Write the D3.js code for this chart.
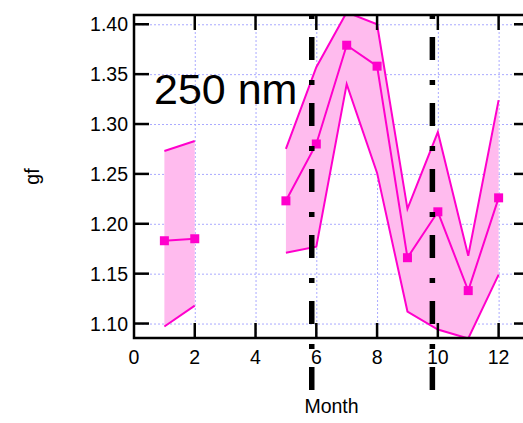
<!DOCTYPE html>
<html>
<head>
<meta charset="utf-8">
<script src="https://cdn.jsdelivr.net/npm/d3@7"></script>
<style>
  html, body { margin: 0; padding: 0; background: #fff; }
  svg { display: block; font-family: "Liberation Sans", Arial, sans-serif; }
</style>
</head>
<body>
<svg id="chart"></svg>
<script>
// data
const segments = [[1, 2], [5, 6, 7, 8, 9, 10, 11, 12]];
const months   = [1, 2, 5, 6, 7, 8, 9, 10, 11, 12];
const gfMean   = [1.183, 1.185, 1.223, 1.280, 1.379, 1.358, 1.166, 1.212, 1.133, 1.226];
const gfUpper  = [1.273, 1.283, 1.275, 1.357, 1.412, 1.400, 1.215, 1.292, 1.168, 1.324];
const gfLower  = [1.097, 1.118, 1.171, 1.177, 1.340, 1.251, 1.112, 1.094, 1.085, 1.149];
const markerMonths = [5.85, 9.82];
const xTicks = [0, 2, 4, 6, 8, 10, 12];
const yTicks = [1.10, 1.15, 1.20, 1.25, 1.30, 1.35, 1.40];
const label = "250 nm";

const width = 523, height = 423;
const margin = { top: 15, left: 134 };
const innerW = 395, innerH = 323;

const lineColor = "#ff00cc";
const fillColor = "#ffbbee";
const gridColor = "#aaaaff";

const svg = d3.select("#chart").attr("width", width).attr("height", height);

const x = d3.scaleLinear().domain([0, 13]).range([margin.left, margin.left + innerW]);
const y = d3.scaleLinear().domain([1.0855, 1.4093]).range([margin.top + innerH, margin.top]);

const rows = months.map((m, i) => ({ m, mean: gfMean[i], hi: gfUpper[i], lo: gfLower[i] }));

svg.append("defs").append("clipPath").attr("id", "clip")
  .append("rect")
  .attr("x", x(0)).attr("y", y.range()[1])
  .attr("width", innerW).attr("height", innerH);

// grid
const grid = svg.append("g")
  .attr("stroke", gridColor).attr("stroke-width", 1).attr("stroke-dasharray", "2,2");
grid.selectAll(".gx").data(xTicks).join("line")
  .attr("x1", d => x(d) + 0.5).attr("x2", d => x(d) + 0.5)
  .attr("y1", y.range()[0]).attr("y2", y.range()[1]);
grid.selectAll(".gy").data(yTicks).join("line")
  .attr("x1", x(0)).attr("x2", x(13))
  .attr("y1", d => y(d) + 0.5).attr("y2", d => y(d) + 0.5);

// band + lines
const plot = svg.append("g").attr("clip-path", "url(#clip)");
const area = d3.area().x(d => x(d.m)).y0(d => y(d.lo)).y1(d => y(d.hi));
const lineOf = key => d3.line().x(d => x(d.m)).y(d => y(d[key]));

segments.forEach(seg => {
  const part = rows.filter(r => seg.includes(r.m));
  plot.append("path").datum(part).attr("d", area).attr("fill", fillColor);
  ["hi", "lo", "mean"].forEach(k => {
    plot.append("path").datum(part).attr("d", lineOf(k))
      .attr("fill", "none").attr("stroke", lineColor).attr("stroke-width", 2);
  });
});

plot.selectAll(".pt").data(rows).join("rect")
  .attr("x", d => x(d.m) - 4.5).attr("y", d => y(d.mean) - 4.5)
  .attr("width", 9).attr("height", 9)
  .attr("fill", lineColor);

// frame + ticks
const axisG = svg.append("g").attr("stroke", "#000").attr("stroke-width", 2.5);
axisG.append("rect")
  .attr("x", x(0)).attr("y", y.range()[1])
  .attr("width", innerW).attr("height", innerH)
  .attr("fill", "none");
const tl = 15;
axisG.selectAll(".tb").data(xTicks.slice(1)).join("line")
  .attr("x1", d => x(d)).attr("x2", d => x(d))
  .attr("y1", y.range()[0]).attr("y2", y.range()[0] - tl);
axisG.selectAll(".tt").data(xTicks.slice(1)).join("line")
  .attr("x1", d => x(d)).attr("x2", d => x(d))
  .attr("y1", y.range()[1]).attr("y2", y.range()[1] + tl);
axisG.selectAll(".tlft").data(yTicks).join("line")
  .attr("x1", x(0)).attr("x2", x(0) + tl)
  .attr("y1", d => y(d)).attr("y2", d => y(d));
axisG.selectAll(".trt").data(yTicks).join("line")
  .attr("x1", x(13)).attr("x2", x(13) - tl)
  .attr("y1", d => y(d)).attr("y2", d => y(d));

// dash-dot markers
svg.selectAll(".vm").data(markerMonths).join("line")
  .attr("x1", d => x(d)).attr("x2", d => x(d))
  .attr("y1", margin.top - 1).attr("y2", height - 33)
  .attr("stroke", "#000").attr("stroke-width", 5.5)
  .attr("stroke-dasharray", "5,18,23,20");

// tick labels
svg.selectAll(".xl").data(xTicks).join("text")
  .attr("x", d => x(d)).attr("y", y.range()[0] + 26)
  .attr("text-anchor", "middle").attr("font-size", 19.5)
  .text(d => d);
svg.selectAll(".yl").data(yTicks).join("text")
  .attr("x", x(0) - 6).attr("y", d => y(d) + 7)
  .attr("text-anchor", "end").attr("font-size", 19.5)
  .text(d => d.toFixed(2));

svg.append("text")
  .attr("x", (x(0) + x(13)) / 2).attr("y", 413)
  .attr("text-anchor", "middle").attr("font-size", 19.5)
  .text("Month");
svg.append("text")
  .attr("transform", `translate(39,${(y.range()[0] + y.range()[1]) / 2}) rotate(-90)`)
  .attr("text-anchor", "middle").attr("font-size", 19.5)
  .text("gf");

svg.append("text")
  .attr("x", 154).attr("y", 103.5)
  .attr("font-size", 43)
  .text(label);
</script>
</body>
</html>
